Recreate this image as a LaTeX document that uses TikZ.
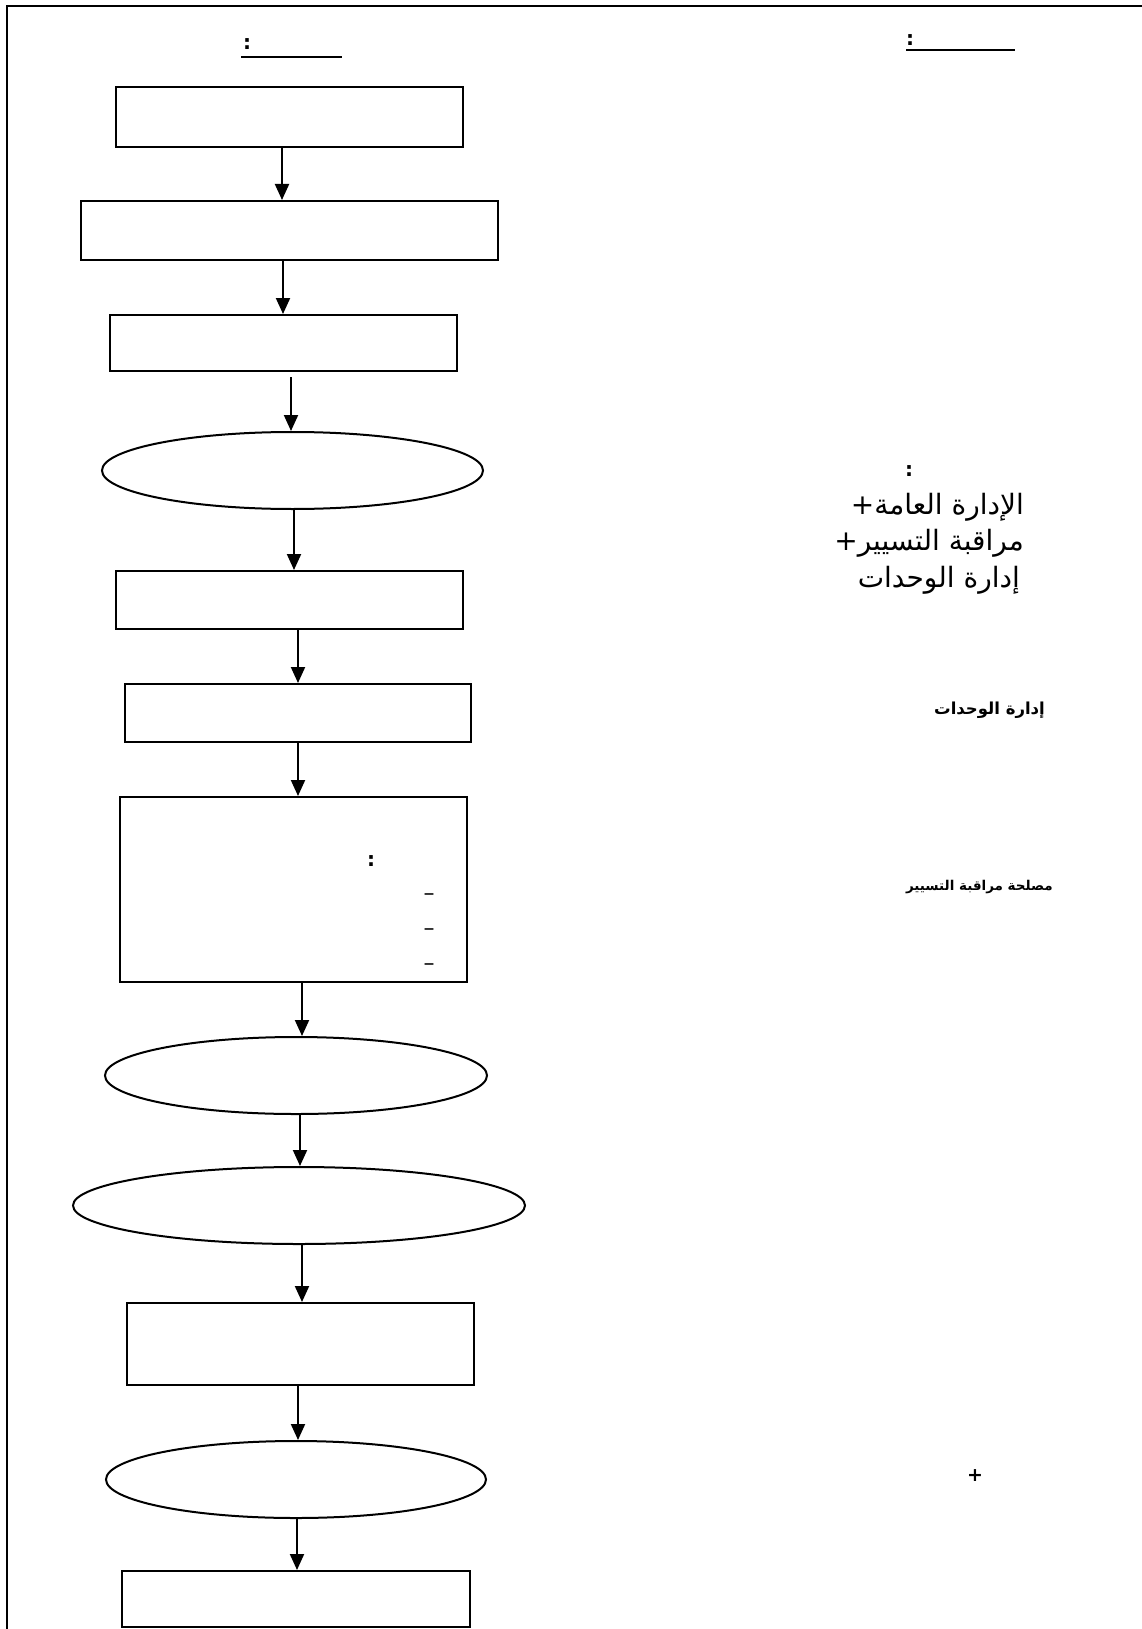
\documentclass[tikz,border=0pt]{standalone}
\usepackage{fontspec}
\newfontfamily\arabicfont[Script=Arabic]{DejaVu Sans}
\TeXXeTstate=1
\usetikzlibrary{shapes.geometric,arrows.meta}
\begin{document}
\begin{tikzpicture}[x=1pt,y=-1pt,
  box/.style={draw, rectangle, inner sep=0pt, line width=2pt},
  oval/.style={draw, ellipse, inner sep=0pt, line width=2pt},
  flow/.style={-{Triangle[length=16pt,width=14pt]}, line width=2pt},
  rt/.style={font=\arabicfont\fontsize{28}{30}\selectfont, inner sep=0pt, anchor=east},
  rtb/.style={font=\arabicfont\bfseries\fontsize{16.5}{18}\selectfont, inner sep=0pt, anchor=east},
  colon/.style={font=\arabicfont\bfseries\fontsize{20}{24}\selectfont, inner sep=0pt},
  dashmark/.style={font=\arabicfont\fontsize{22}{24}\selectfont, inner sep=0pt},
  uline/.style={line width=2.2pt},
]
\useasboundingbox (0,0) rectangle (1141,1629);
% page frame
\draw[line width=2.4pt] (7,1650) -- (7,6) -- (1160,6);

% header
\node[colon] (h1) at (247,44) {:};
\draw[uline] (241,57) -- (342,57);
\node[colon] (h2) at (910,40) {:};
\draw[uline] (906,50) -- (1015,50);

% flow chart
\node[box, minimum width=347, minimum height=60] (b1) at (289.5,117) {};
\node[box, minimum width=417, minimum height=59] (b2) at (289.5,230.5) {};
\node[box, minimum width=347, minimum height=56] (b3) at (283.5,343) {};
\node[oval, minimum width=381, minimum height=77] (e4) at (292.5,470.5) {};
\node[box, minimum width=347, minimum height=58] (b5) at (289.5,600) {};
\node[box, minimum width=346, minimum height=58] (b6) at (298,713) {};
\node[box, minimum width=347, minimum height=185] (b7) at (293.5,889.5) {};
\node[oval, minimum width=382, minimum height=77] (e8) at (296,1075.5) {};
\node[oval, minimum width=452, minimum height=77] (e9) at (299,1205.5) {};
\node[box, minimum width=347, minimum height=82] (b10) at (300.5,1344) {};
\node[oval, minimum width=380, minimum height=77] (e11) at (296,1479.5) {};
\node[box, minimum width=348, minimum height=56] (b12) at (296,1599) {};

% arrow columns
\coordinate (a1) at (282,0);
\coordinate (a2) at (283,0);
\coordinate (a3) at (291,0);
\coordinate (a4) at (294,0);
\coordinate (a5) at (298,0);
\coordinate (a6) at (298,0);
\coordinate (a7) at (302,0);
\coordinate (a8) at (300,0);
\coordinate (a9) at (302,0);
\coordinate (a10) at (298,0);
\coordinate (a11) at (297,0);

\draw[flow] (b1.south -| a1) -- (b2.north -| a1);
\draw[flow] (b2.south -| a2) -- (b3.north -| a2);
\draw[flow] ([yshift=-5pt]b3.south -| a3) -- (e4.north -| a3);
\draw[flow] (e4.south -| a4) -- (b5.north -| a4);
\draw[flow] (b5.south -| a5) -- (b6.north -| a5);
\draw[flow] (b6.south -| a6) -- (b7.north -| a6);
\draw[flow] (b7.south -| a7) -- (e8.north -| a7);
\draw[flow] (e8.south -| a8) -- (e9.north -| a8);
\draw[flow] (e9.south -| a9) -- (b10.north -| a9);
\draw[flow] (b10.south -| a10) -- (e11.north -| a10);
\draw[flow] (e11.south -| a11) -- (b12.north -| a11);

% inside box 7
\node[colon] (c7) at (371,861) {:};
\node[dashmark] (d1) at (429,897) {–};
\node[dashmark] (d2) at (429,932) {–};
\node[dashmark] (d3) at (429,967) {–};

% right column texts
\node[colon] (t0) at (909,471) {:};
\node[rt] (t1) at (1024,507) {\beginR الإدارة العامة+\endR};
\node[rt] (t2) at (1024,543) {\beginR مراقبة التسيير+\endR};
\node[rt] (t3) at (1020,580) {\beginR إدارة الوحدات\endR};
\node[rtb] (t4) at (1045,710) {\beginR إدارة الوحدات\endR};
\node[rtb, font=\arabicfont\bfseries\fontsize{13.5}{16}\selectfont] (t5) at (1053,887) {\beginR مصلحة مراقبة التسيير\endR};
\node[font=\arabicfont\bfseries\fontsize{19}{20}\selectfont, inner sep=0pt] (t6) at (975,1476) {+};
\end{tikzpicture}
\end{document}
